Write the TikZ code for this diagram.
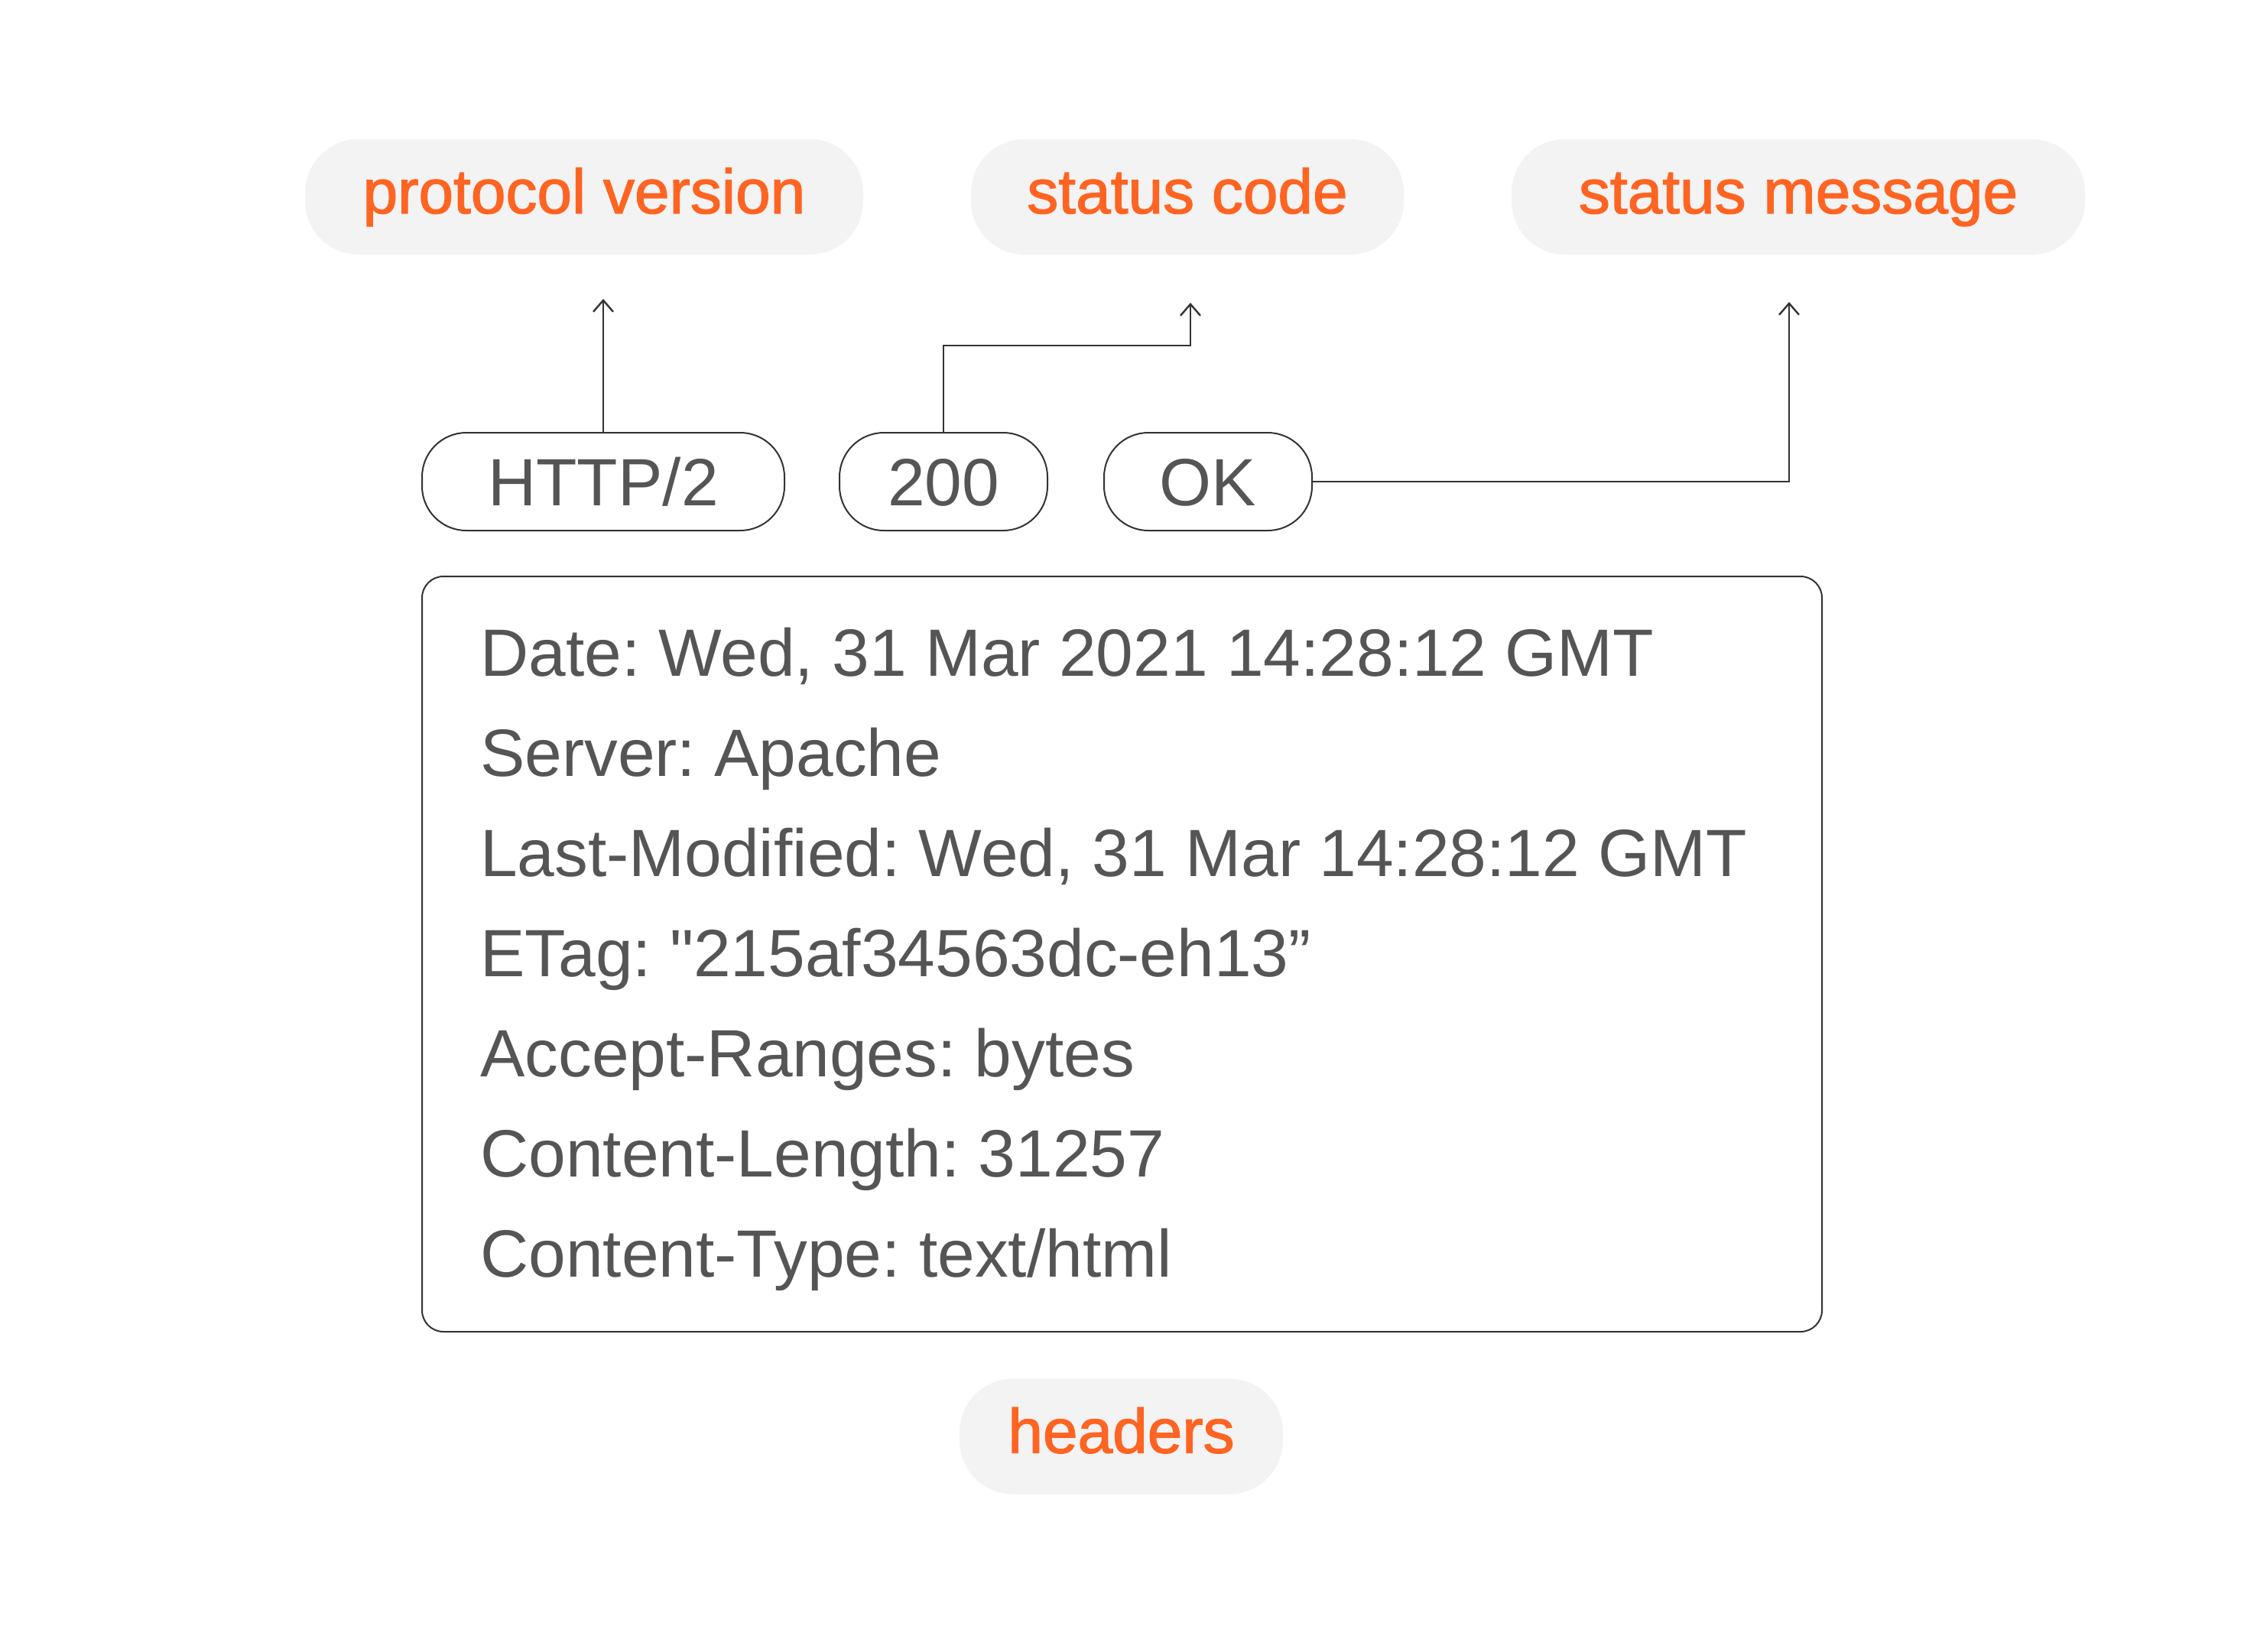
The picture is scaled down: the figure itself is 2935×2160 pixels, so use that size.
\documentclass[tikz,border=0pt]{standalone}
\usepackage{fontspec}
\setmainfont{Liberation Sans}[Ligatures=TeXOff]
\newfontfamily\orfont{Liberation Sans}[FakeBold=1.6]
\usetikzlibrary{arrows.meta}
\definecolor{orng}{HTML}{FF6422}
\definecolor{txtgray}{HTML}{555555}
\definecolor{pillgray}{HTML}{F3F3F3}
\definecolor{lncol}{HTML}{333333}
\frenchspacing
\tikzset{
  graypill/.style={fill=pillgray, rounded corners=70pt, minimum height=151pt, inner sep=0pt,
    font=\orfont\fontsize{82}{98}\selectfont, text=orng, text height=60pt, text depth=17pt},
  valpill/.style={draw=lncol, line width=2pt, fill=white, rounded corners=58pt, minimum height=128pt, inner sep=0pt,
    font=\fontsize{87.5}{105}\selectfont, text=txtgray, text height=62.7pt, text depth=0pt},
  hdrline/.style={anchor=base west, inner sep=0pt, font=\fontsize{87.5}{105}\selectfont, text=txtgray},
  conn/.style={draw=lncol, line width=2.4pt, -{Straight Barb[length=15pt,width=26pt,line width=2.4pt]}},
}
\begin{document}
\begin{tikzpicture}[x=1pt,y=-1pt]
\useasboundingbox[fill=white] (0,0) rectangle (2935,2160);

% top labels
\node[graypill, minimum width=730pt] (pv) at (764,257.5) {protocol version};
\node[graypill, minimum width=566pt] (sc) at (1553,257.5) {status code};
\node[graypill, minimum width=750pt] (sm) at (2352,257.5) {status message};

% status line values
\node[valpill, minimum width=474pt] (http) at (789,630) {HTTP/2};
\node[valpill, minimum width=272pt] (code) at (1234,630) {200};
\node[valpill, minimum width=272pt] (ok) at (1580,630) {OK};

% headers box
\node[draw=lncol, line width=2pt, rounded corners=28pt, minimum width=1831pt, minimum height=988pt, inner sep=0pt] (hbox) at (1467.5,1248) {};
\foreach \t [count=\i from 0] in {{Date: Wed, 31 Mar 2021 14:28:12 GMT},{Server: Apache},{Last-Modified: Wed, 31 Mar 14:28:12 GMT},{ETag: "215af34563dc-eh13”},{Accept-Ranges: bytes},{Content-Length: 31257},{Content-Type: text/html}}
  \node[hdrline] (line\i) at (628,884+131*\i) {\frenchspacing\t};

\node[graypill, minimum width=423pt] (hd) at (1466.5,1879) {headers};

% connectors
\coordinate (pvtip) at (789,391);
\coordinate (sctip) at (1557,396);
\coordinate (smtip) at (2340,395);
\draw[conn] (http.north) -- (pvtip);
\draw[conn] (code.north) |- (1557,452) -- (sctip);
\draw[conn] (ok.east) -| (smtip);
\end{tikzpicture}
\end{document}
